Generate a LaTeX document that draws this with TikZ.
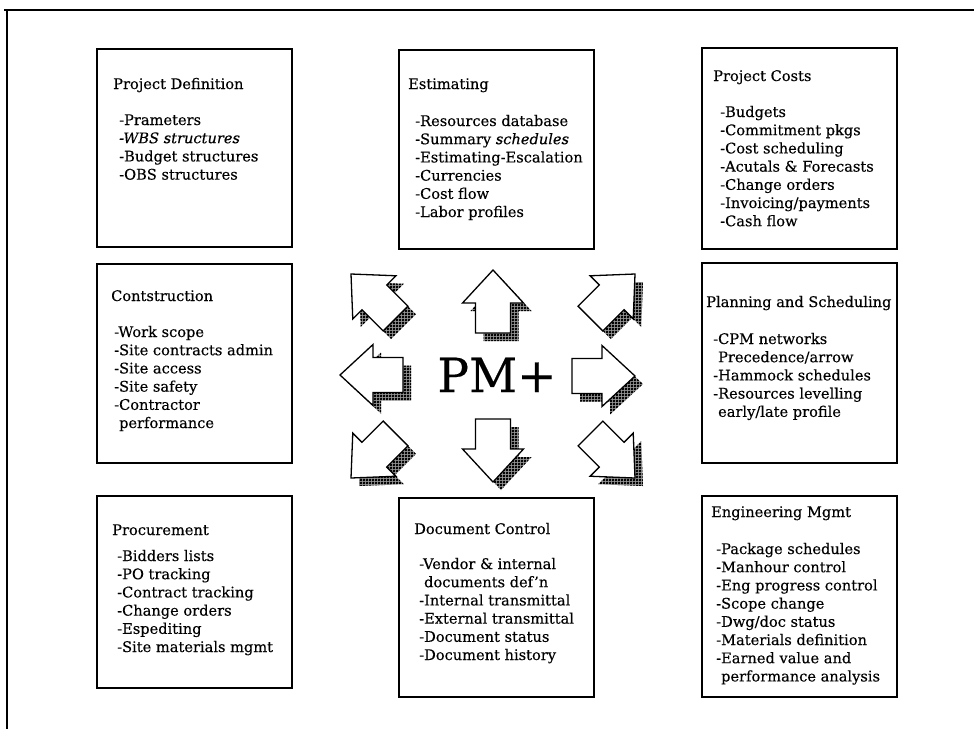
\documentclass[tikz,border=0pt]{standalone}
\usepackage{fontspec}
\setmainfont{DejaVu Serif}[FakeBold=0.3]
\usetikzlibrary{patterns.meta}
\tikzdeclarepattern{
  name=xhatch,
  type=uncolored,
  bottom left={(0pt,0pt)},
  top right={(2.5pt,2.5pt)},
  tile size={(2.5pt,2.5pt)},
  code={
    \draw[line width=0.9pt] (0pt,0pt) -- (2.5pt,2.5pt);
    \draw[line width=0.9pt] (0pt,2.5pt) -- (2.5pt,0pt);
  }
}
\begin{document}
\begin{tikzpicture}[x=1pt,y=-1pt,
  box/.style={draw=black, line width=1.5pt, inner sep=0pt, anchor=north west, minimum width=195pt},
  ttl/.style={anchor=base west, inner sep=0pt, font=\fontsize{14.6}{18.2}\selectfont},
  itm/.style={anchor=base west, inner sep=0pt, font=\fontsize{14.6}{18.2}\selectfont},
  barrow/.style={draw=black, line width=1.3pt, fill=white, line join=miter},
  bshadow/.style={fill=black!40, postaction={pattern=xhatch, pattern color=black}},
  frame/.style={draw=black, line width=1.1pt}
]
\useasboundingbox (0,0) rectangle (974,729);
% frame
\coordinate (ftr) at (974,10);
\coordinate (ftl) at (4,10);
\coordinate (fl) at (7,10);
\coordinate (fbl) at (7,729);
\draw[frame] (ftr) -- (ftl);
\draw[frame] (fl) -- (fbl);

% boxes
\node[box, minimum height=198pt] (pd)  at (96,48)  {};
\node[box, minimum height=199pt] (est) at (398,49) {};
\node[box, minimum height=201pt] (pc)  at (701,47) {};
\node[box, minimum height=199pt] (con) at (96,263) {};
\node[box, minimum height=200pt] (ps)  at (701,262) {};
\node[box, minimum height=192pt] (proc) at (96,495) {};
\node[box, minimum height=199pt] (dc)  at (398,497) {};
\node[box, minimum height=201pt] (em)  at (701,495) {};

% texts
\node[ttl] (pdt) at (113,89) {Project Definition};
\node[itm] (pdi) at (119,125) {\parbox[t]{170pt}{-Prameters\\\textit{-WBS structures}\\-Budget structures\\-OBS structures}};

\node[ttl] (estt) at (408,89) {Estimating};
\node[itm] (esti) at (415,126) {\parbox[t]{175pt}{-Resources database\\-Summary \textit{schedules}\\-Estimating-Escalation\\-Currencies\\-Cost flow\\-Labor profiles}};

\node[ttl] (pct) at (713,81) {Project Costs};
\node[itm] (pci) at (720,117) {\parbox[t]{175pt}{-Budgets\\-Commitment pkgs\\-Cost scheduling\\-Acutals \& Forecasts\\-Change orders\\-Invoicing/payments\\-Cash flow}};

\node[ttl] (cont) at (111,301) {Contstruction};
\node[itm] (coni) at (114,337) {\parbox[t]{175pt}{-Work scope\\-Site contracts admin\\-Site access\\-Site safety\\-Contractor\\\hphantom{-}performance}};

\node[ttl] (pst) at (706,307) {Planning and Scheduling};
\node[itm] (psi) at (713,344) {\parbox[t]{180pt}{-CPM networks\\\hphantom{-}Precedence/arrow\\-Hammock schedules\\-Resources levelling\\\hphantom{-}early/late profile}};

\node[ttl] (proct) at (112,535) {Procurement};
\node[itm] (proci) at (117,561) {\parbox[t]{175pt}{-Bidders lists\\-PO tracking\\-Contract tracking\\-Change orders\\-Espediting\\-Site materials mgmt}};

\node[ttl] (dct) at (414,534) {Document Control};
\node[itm] (dci) at (419,569) {\parbox[t]{175pt}{-Vendor \& internal\\\hphantom{-}documents def'n\\-Internal transmittal\\-External transmittal\\-Document status\\-Document history}};

\node[ttl] (emt) at (711,517) {Engineering Mgmt};
\node[itm] (emi) at (716,554) {\parbox[t]{180pt}{-Package schedules\\-Manhour control\\-Eng progress control\\-Scope change\\-Dwg/doc status\\-Materials definition\\-Earned value and\\\hphantom{-}performance analysis}};

% centre label
\node[anchor=base, inner sep=0pt, font=\fontsize{47}{50}\selectfont] (pm) at (497,392) {PM+};

% block arrows with hatched shadows
\foreach \tx/\ty/\a in {493/270/90, 493/482/-90, 340/375/180, 635/376/0, 351/274/135, 635/274/45, 351/478/225, 635/478/-45} {
  \fill[bshadow, shift={(\tx+8,\ty+8)}, rotate=\a]
    (0,0) -- (-33,30.5) -- (-33,17.5) -- (-63,17.5) -- (-63,-17.5) -- (-33,-17.5) -- (-33,-30.5) -- cycle;
  \draw[barrow, shift={(\tx,\ty)}, rotate=\a]
    (0,0) -- (-33,30.5) -- (-33,17.5) -- (-63,17.5) -- (-63,-17.5) -- (-33,-17.5) -- (-33,-30.5) -- cycle;
}
\end{tikzpicture}
\end{document}
